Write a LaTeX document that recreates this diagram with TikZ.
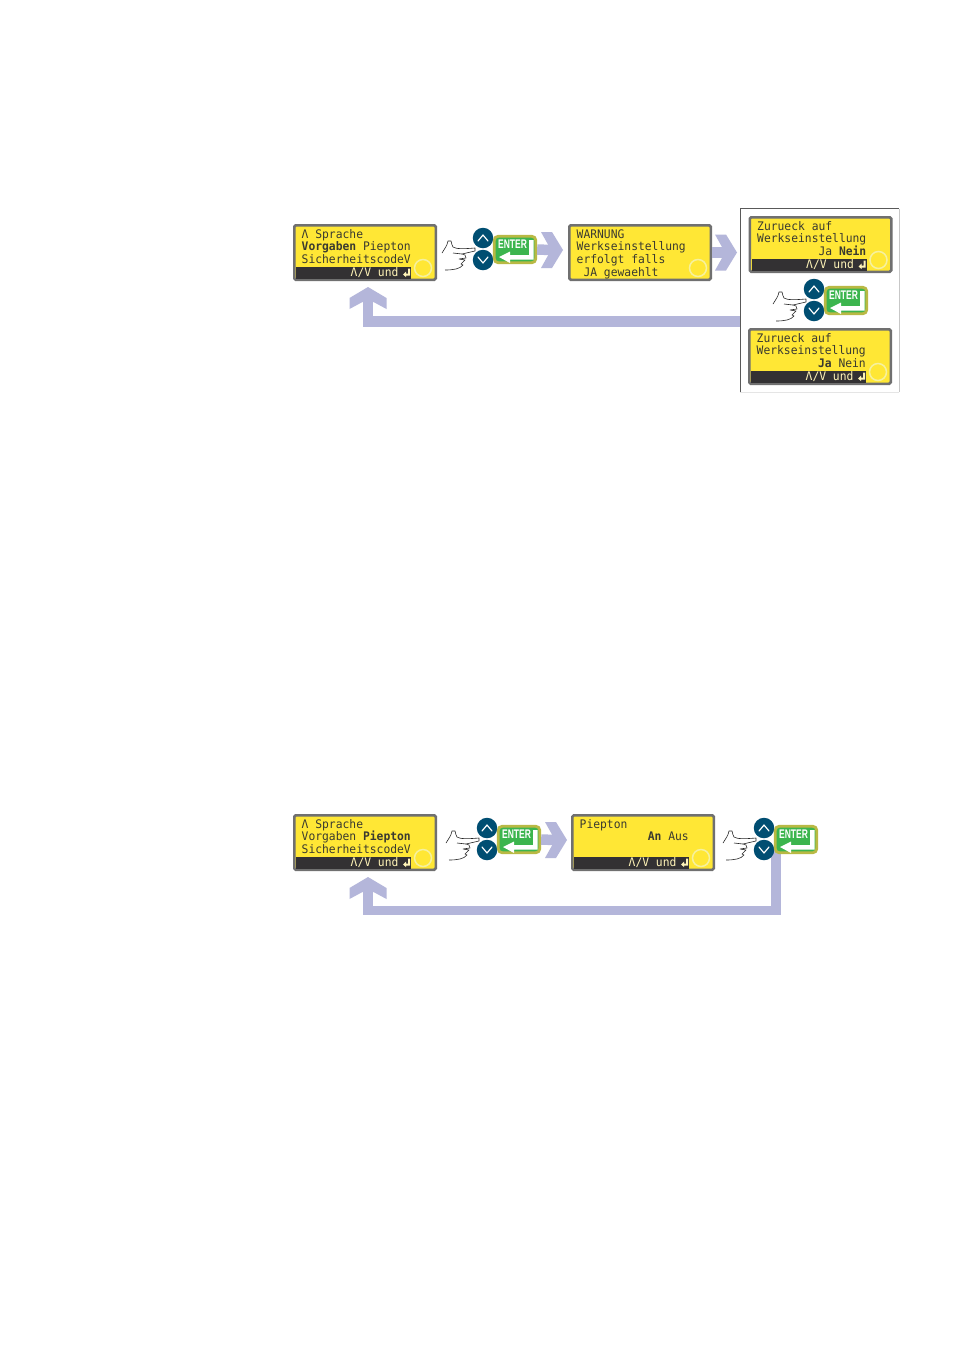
\documentclass[tikz,border=0pt]{standalone}
\usepackage{fontspec}
\setmainfont{Liberation Sans}
\setmonofont{DejaVu Sans Mono}
\definecolor{lcdyellow}{HTML}{FFE735}
\definecolor{lcdgrey}{HTML}{707070}
\definecolor{lcdbar}{HTML}{333133}
\definecolor{lcdtxt}{HTML}{3A3A30}
\definecolor{barfg}{HTML}{FFF4B8}
\definecolor{ringc}{HTML}{F6F19E}
\definecolor{flowc}{HTML}{B4B6DA}
\definecolor{keyblue}{HTML}{004E72}
\definecolor{entgreen}{HTML}{3CB54E}
\definecolor{entrim}{HTML}{B9B944}
\tikzset{
  lcdbox/.style={draw=lcdgrey,fill=lcdyellow,line width=2.5pt,rounded corners=1.5pt,minimum width=141.5pt,minimum height=54.5pt,inner sep=0pt},
  lcdline/.style={anchor=base west,inner sep=0pt,text=lcdtxt,xscale=.96,font=\ttfamily\fontsize{11.8}{13}\selectfont},
  barline/.style={lcdline,text=barfg},
  keybtn/.style={circle,fill=keyblue,minimum size=20.5pt,inner sep=0pt},
  enterbox/.style={draw=entrim,fill=entgreen,line width=2.8pt,rounded corners=4pt,minimum width=41.5pt,minimum height=26.5pt,inner sep=0pt},
  entertxt/.style={anchor=base west,inner sep=0pt,text=white,xscale=.68,font=\bfseries\fontsize{12.5}{14}\selectfont},
  chev/.style={white,line width=1.2pt,line cap=round,line join=round},
  flowline/.style={draw=flowc,line width=10.5pt,line join=miter},
  flowthin/.style={draw=flowc,line width=9.5pt,line join=miter},
  flowhead/.style={fill=flowc},
  handline/.style={draw=black!85,line width=.6pt,line join=round},
  framedark/.style={draw=black!65,line width=.8pt},
  framelight/.style={draw=black!22,line width=.6pt},
  framefaint/.style={draw=black!10,line width=.6pt}
}
% name, x, y : outer top-left corner
\newcommand{\lcdbody}[3]{%
  \node[lcdbox] (#1) at (#2+72,#3+28.5) {};
  \draw[ringc,line width=1.5pt] (#2+130,#3+44) circle (8.5);
}
\newcommand{\lcdbar}[3]{%
  \fill[lcdbar] (#2+3,#3+43) rectangle (#2+118,#3+55);
  \node[barline] (#1-bar) at (#2+57.5,#3+52) {Λ/V und};
  \fill[barfg] (#2+115,#3+44.5) -- (#2+117,#3+44.5) -- (#2+117,#3+51.5) -- (#2+113,#3+51.5) -- (#2+113,#3+53) -- (#2+110,#3+50.5) -- (#2+113,#3+47.5) -- (#2+113,#3+49.5) -- (#2+115,#3+49.5) -- cycle;
}
\newcommand{\lcdtext}[5]{%
  \node[lcdline] (#1-a) at (#2+8.5,#3+14) {#4};
  \node[lcdline] (#1-b) at (#2+8.5,#3+26.7) {#5};
}
\newcommand{\keypad}[3]{%
  \node[keybtn] (#1-up) at (#2,#3) {};
  \node[keybtn] (#1-dn) at (#2,#3+22) {};
  \draw[chev] (#2-5,#3+3) -- (#2,#3-3) -- (#2+5,#3+3);
  \draw[chev] (#2-5,#3+19) -- (#2,#3+25) -- (#2+5,#3+19);
  \node[enterbox] (#1-ent) at (#2+32,#3+11.5) {};
  \node[entertxt] (#1-txt) at (#2+15,#3+10.5) {ENTER};
  \fill[white] (#2+46,#3+2) -- (#2+50.5,#3+2) -- (#2+50.5,#3+21.5) -- (#2+27,#3+21.5) -- (#2+27,#3+25) -- (#2+16,#3+19) -- (#2+27,#3+13.5) -- (#2+27,#3+17) -- (#2+46,#3+17) -- cycle;
  \draw[handline] (#2-41,#3+15) .. controls (#2-38,#3+10) and (#2-36,#3+8) .. (#2-35,#3+3)
    -- (#2-32,#3+3) .. controls (#2-31,#3+6) and (#2-31,#3+8) .. (#2-30,#3+9)
    .. controls (#2-27,#3+11) and (#2-20,#3+11) .. (#2-8,#3+10) -- (#2-8,#3+13)
    -- (#2-21,#3+16) -- (#2-18,#3+17) -- (#2-17,#3+20) -- (#2-24,#3+21)
    (#2-24,#3+21) -- (#2-18,#3+22) -- (#2-22,#3+26) -- (#2-20,#3+27)
    .. controls (#2-23,#3+31) and (#2-30,#3+32) .. (#2-38,#3+32);
  \draw[handline] (#2-30,#3+15) -- (#2-21,#3+16);
}
\newcommand{\headright}[1]{\fill[flowhead] (#1) -- ++(-11,-18) -- ++(-11,0) -- ++(7,12.5) -- ++(0,11) -- ++(-7,12.5) -- ++(11,0) -- cycle;}
\newcommand{\headup}[1]{\fill[flowhead] (#1) -- ++(18.5,11) -- ++(0,11) -- ++(-13,-7) -- ++(-11,0) -- ++(-13,7) -- ++(0,-11) -- cycle;}
\begin{document}
\begin{tikzpicture}[x=1pt,y=-1pt]
\useasboundingbox (0,0) rectangle (954,1350);
\fill[white] (0,0) rectangle (954,1350);

% --- frame around the confirmation pair
\coordinate (frTL) at (740,208.5);
\coordinate (frTR) at (899,208.5);
\coordinate (frBL) at (740,392);
\coordinate (frBR) at (899,392);
\draw[framefaint] (frBR) -- (frBL);
\draw[framelight] (frTR) -- (frBR);
\draw[framedark] (frBL) -- (frTL) -- (frTR);

% --- panels
\lcdbody{A}{293}{224}\lcdbar{A}{293}{224}
\lcdtext{A}{293}{224}{Λ Sprache}{\bfseries Vorgaben {\mdseries Piepton}}
\node[lcdline] (A-c) at (293+8.5,224+39.4) {SicherheitscodeV};

\lcdbody{B}{568}{224}
\lcdtext{B}{568}{224}{WARNUNG}{Werkseinstellung}
\node[lcdline] (B-c) at (568+8.5,224+39.4) {erfolgt falls};
\node[lcdline] (B-d) at (568+8.5,224+52) {~JA gewaehlt};

\lcdbody{C}{748.5}{216}\lcdbar{C}{748.5}{216}
\lcdtext{C}{748.5}{216}{Zurueck auf}{Werkseinstellung}
\node[lcdline] (C-c) at (748.5+8.5,216+39.4) {~~~~~~~~~Ja {\bfseries Nein}};

\lcdbody{D}{748}{328}\lcdbar{D}{748}{328}
\lcdtext{D}{748}{328}{Zurueck auf}{Werkseinstellung}
\node[lcdline] (D-c) at (748+8.5,328+39.4) {~~~~~~~~~{\bfseries Ja} Nein};

\lcdbody{E}{293}{814}\lcdbar{E}{293}{814}
\lcdtext{E}{293}{814}{Λ Sprache}{Vorgaben {\bfseries Piepton}}
\node[lcdline] (E-c) at (293+8.5,814+39.4) {SicherheitscodeV};

\lcdbody{F}{571}{814}\lcdbar{F}{571}{814}
\lcdtext{F}{571}{814}{Piepton}{~~~~~~~~~~{\bfseries An} Aus}

% --- connector anchors
\coordinate (tip1) at (563,250);
\coordinate (tip2) at (737,252.5);
\coordinate (tip3) at (567,840);
\coordinate (tipA) at (368,287);
\coordinate (tipE) at (368,877);
\coordinate (retA) at (740,321.5);
\coordinate (retB) at (776,910.5);
\coordinate (K4start) at (776,850);

% --- keypads
\keypad{K1}{483}{238}
\keypad{K2}{814}{289}
\keypad{K3}{487}{828}

\draw[flowthin] (K4start) -- (retB) -- (retB -| tipE) -- ([yshift=-14pt]tipE);
\keypad{K4}{764}{828}

\draw[flowline] (K1-ent.east) -- ([xshift=-12pt]tip1);
\headright{tip1}
\draw[flowline] (B.east) -- ([xshift=-12pt]tip2);
\headright{tip2}
\draw[flowline] (K3-ent.east) -- ([xshift=-12pt]tip3);
\headright{tip3}
\draw[flowline] (retA) -- (retA -| tipA) -- ([yshift=-14pt]tipA);
\headup{tipA}
\headup{tipE}
\end{tikzpicture}
\end{document}
